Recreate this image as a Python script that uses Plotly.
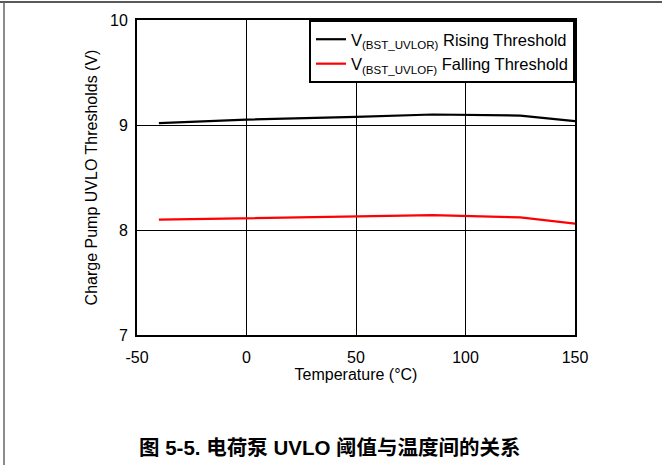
import plotly.graph_objects as go

temps = [-40, 0, 50, 85, 125, 150]
rising = [9.017, 9.052, 9.077, 9.10, 9.09, 9.036]
falling = [8.098, 8.114, 8.13, 8.142, 8.12, 8.06]

x_ticks = [-50, 0, 50, 100, 150]
y_ticks = [7, 8, 9, 10]

FONT = "Liberation Sans, Arial, sans-serif"

fig = go.Figure()
fig.add_trace(go.Scatter(x=temps, y=rising, mode="lines",
                         line=dict(color="black", width=2.2),
                         name="V<sub>(BST_UVLOR)</sub> Rising Threshold"))
fig.add_trace(go.Scatter(x=temps, y=falling, mode="lines",
                         line=dict(color="#ff0000", width=2.2),
                         name="V<sub>(BST_UVLOF)</sub> Falling Threshold"))

W, H = 662, 465
L, R, T, B = 137, 87, 20, 130
pw, ph = W - L - R, H - T - B

def px(x):
    return (x - L) / pw

def py(y):
    return (H - B - y) / ph

fig.update_layout(
    width=W, height=H,
    margin=dict(l=L, r=R, t=T, b=B, pad=0),
    paper_bgcolor="white", plot_bgcolor="white",
    font=dict(family=FONT, size=16, color="black"),
    showlegend=True,
    legend=dict(x=1, xanchor="right", y=1, yanchor="top",
                bgcolor="white", bordercolor="black", borderwidth=2,
                font=dict(family=FONT, size=16.5, color="black"),
                tracegroupgap=0),
    xaxis=dict(range=[-50, 150], tickvals=x_ticks, ticktext=[str(v) for v in x_ticks],
               showgrid=True, gridcolor="black", gridwidth=1, zeroline=False,
               showline=True, linecolor="black", linewidth=2, mirror=True,
               ticks="", ticklabelstandoff=7,
               tickfont=dict(size=16),
               title=dict(text="Temperature (°C)", font=dict(size=16), standoff=2)),
    yaxis=dict(range=[7, 10], tickvals=y_ticks, ticktext=[str(v) for v in y_ticks],
               showgrid=True, gridcolor="black", gridwidth=1, zeroline=False,
               showline=True, linecolor="black", linewidth=2, mirror=True,
               ticks="", ticklabelstandoff=4,
               tickfont=dict(size=16),
               title=dict(text="Charge Pump UVLO Thresholds (V)", font=dict(size=16), standoff=8)),
    shapes=[
        dict(type="line", xref="paper", yref="paper", x0=px(0), x1=px(W), y0=py(2), y1=py(2),
             line=dict(color="#222", width=1.5)),
        dict(type="line", xref="paper", yref="paper", x0=px(4), x1=px(4), y0=py(2), y1=py(H),
             line=dict(color="#666", width=1.5)),
    ],
    annotations=[
        dict(text="<b>图 5-5. 电荷泵 UVLO 阈值与温度间的关系</b>", xref="paper", yref="paper",
             x=px(330), y=py(447), xanchor="center", yanchor="middle", showarrow=False,
             font=dict(family="Liberation Sans, Noto Sans CJK SC, sans-serif", size=20.5, color="black")),
    ],
)

fig.write_html("out.html")
